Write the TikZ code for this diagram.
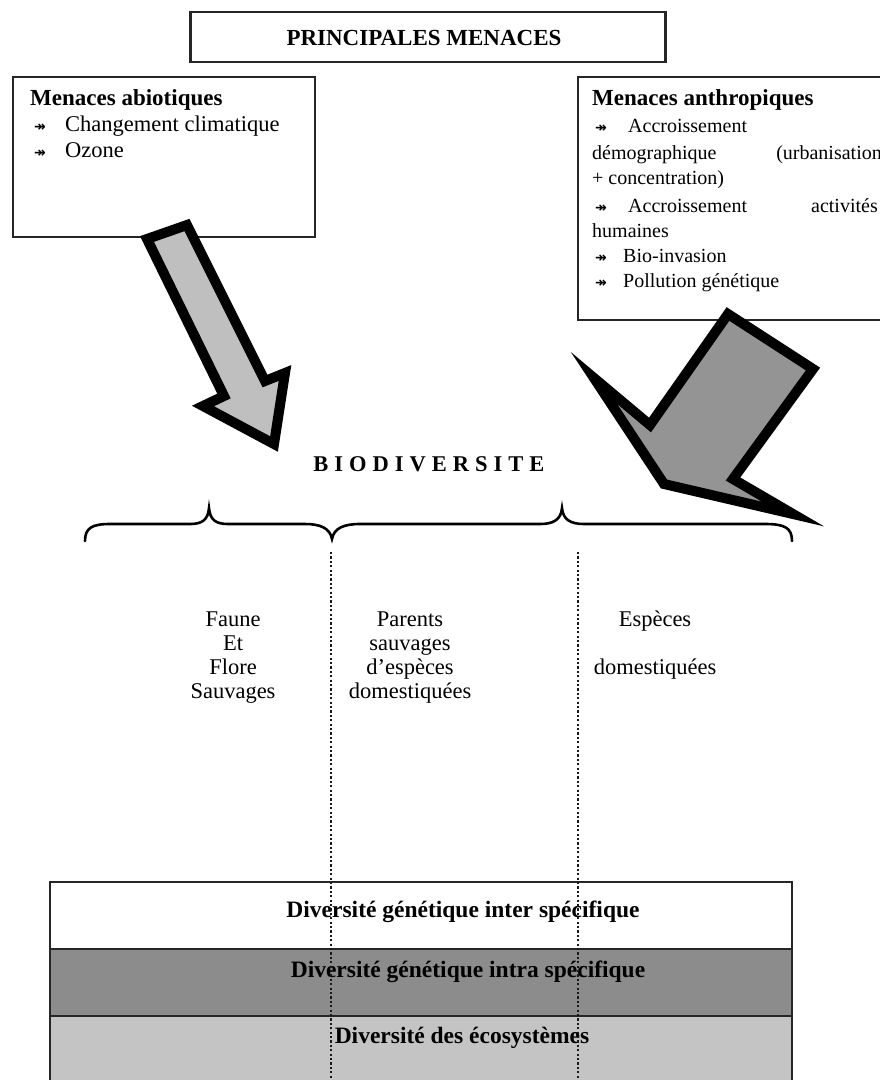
\documentclass[tikz,border=0pt]{standalone}
\usepackage{fontspec}
\setmainfont{Liberation Serif}
\newfontfamily\symf{DejaVu Sans}
\newcommand{\mybul}{{\symf\fontsize{14}{14}\selectfont\bfseries ↠}}
\begin{document}
\begin{tikzpicture}[x=1pt,y=-1pt,
  boxst/.style={draw=black!85, line width=2.2pt, fill=white, inner sep=0},
  hd/.style={font=\fontsize{23}{26}\selectfont\bfseries, inner sep=0, anchor=base west},
  tl/.style={font=\fontsize{22.5}{26}\selectfont, inner sep=0, anchor=base west},
  tr/.style={font=\fontsize{20}{26}\selectfont, inner sep=0, anchor=base west},
  tc/.style={font=\fontsize{22.5}{26}\selectfont, inner sep=0, anchor=base},
  rowt/.style={font=\fontsize{23.5}{26}\selectfont\bfseries, inner sep=0, anchor=base},
  bigarrow/.style={draw=black, line width=10pt, line join=miter, miter limit=10},
  bracest/.style={draw=black, line width=2.6pt, line cap=round},
  dotline/.style={draw=black!90, line width=2.4pt, dash pattern=on 2.2pt off 2.2pt},
  rowst/.style={draw=black!85, line width=2.2pt, inner sep=0, minimum width=742pt, minimum height=67pt}
]
\useasboundingbox (0,0) rectangle (880,1080);
\fill[white] (0,0) rectangle (880,1080);

% title
\node[boxst, line width=2.8pt, minimum width=475pt, minimum height=50pt] (title) at (428,37) {};
\node[font=\fontsize{23}{26}\selectfont\bfseries, inner sep=0, anchor=base] (titlet) at (424,45) {PRINCIPALES MENACES};

% left box
\node[boxst, minimum width=302pt, minimum height=160pt] (abio) at (164,157) {};
\node[hd] (abt) at (30,105) {Menaces abiotiques};
\node[tl] (ab1b) at (34,131) {\mybul};
\node[tl] (ab1) at (65,131) {Changement climatique};
\node[tl] (ab2b) at (34,157) {\mybul};
\node[tl] (ab2) at (65,157) {Ozone};

% right box
\node[boxst, minimum width=320pt, minimum height=243pt] (anth) at (738,198.5) {};
\node[hd] (ant) at (592,105) {Menaces anthropiques};
\node[tr] (an1b) at (595,132) {\mybul};
\node[tr] (an1) at (628,132) {Accroissement};
\node[tr] (an2) at (592,159) {démographique};
\node[tr, anchor=base east] (an2b) at (882,159) {(urbanisation};
\node[tr] (an3) at (592,184) {+ concentration)};
\node[tr] (an4b) at (595,212) {\mybul};
\node[tr] (an4) at (628,212) {Accroissement};
\node[tr, anchor=base east] (an4c) at (878,212) {activités};
\node[tr] (an5) at (592,237) {humaines};
\node[tr] (an6b) at (595,262) {\mybul};
\node[tr] (an6) at (623,262) {Bio-invasion};
\node[tr] (an7b) at (595,287) {\mybul};
\node[tr] (an7) at (623,287) {Pollution génétique};

% big arrows
\draw[bigarrow, fill=black!25] (147,239) -- (187,225) -- (265,381) -- (285,373)
  -- (274,444) -- (203,406) -- (224,396) -- cycle;
\draw[bigarrow, fill=black!42] (728,314) -- (813,369) -- (733,479) -- (793,514)
  -- (664,484) -- (594,378) -- (650,425) -- cycle;

% BIODIVERSITE
\node[font=\fontsize{22.5}{26}\selectfont\bfseries, inner sep=0, anchor=base] (bio) at (429,471)
  {B\kern6pt I\kern6pt O\kern6pt D\kern6pt I\kern6pt V\kern6pt E\kern6pt R\kern6pt S\kern6pt I\kern6pt T\kern6pt E};

% braces
\coordinate (bL) at (85,541);
\coordinate (bM) at (332,539);
\coordinate (bR) at (792,541);
\draw[bracest] (bL) .. controls (85,528) and (92,524) .. (110,524) -- (190,524)
  .. controls (202,524) and (208,520) .. (209,508)
  .. controls (210,520) and (216,524) .. (228,524) -- (305,524)
  .. controls (320,524) and (330,528) .. (bM)
  .. controls (334,528) and (344,524) .. (360,524) -- (540,524)
  .. controls (553,524) and (561,520) .. (562,508)
  .. controls (563,520) and (571,524) .. (584,524) -- (765,524)
  .. controls (785,524) and (792,528) .. (bR);

% columns
\node[tc] (c1a) at (233,626) {Faune};
\node[tc] (c1b) at (233,650) {Et};
\node[tc] (c1c) at (233,674) {Flore};
\node[tc] (c1d) at (233,698) {Sauvages};
\node[tc] (c2a) at (410,626) {Parents};
\node[tc] (c2b) at (410,650) {sauvages};
\node[tc] (c2c) at (410,674) {d'espèces};
\node[tc] (c2d) at (410,698) {domestiquées};
\node[tc] (c3a) at (655,626) {Espèces};
\node[tc] (c3b) at (655,674) {domestiquées};

% table
\node[rowst, fill=white] (r1) at (421,915.5) {};
\node[rowst, fill=black!45] (r2) at (421,982.5) {};
\node[rowst, fill=black!23, minimum height=70pt] (r3) at (421,1051) {};
\node[rowt] (r1t) at (463,917) {Diversité génétique inter spécifique};
\node[rowt] (r2t) at (468,977) {Diversité génétique intra spécifique};
\node[rowt] (r3t) at (462,1043) {Diversité des écosystèmes};

% dotted separators
\coordinate (d1top) at (331,552);
\coordinate (d1bot) at (331,1080);
\coordinate (d2top) at (578,552);
\coordinate (d2bot) at (578,1080);
\draw[dotline] (d1top) -- (d1bot);
\draw[dotline] (d2top) -- (d2bot);
\end{tikzpicture}
\end{document}
